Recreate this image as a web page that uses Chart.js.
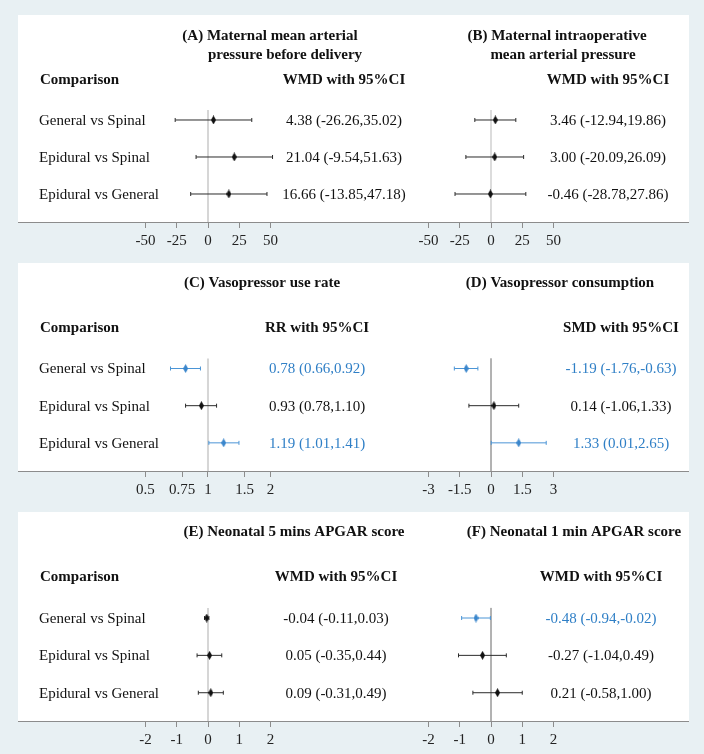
<!DOCTYPE html>
<html>
<head>
<meta charset="utf-8">
<script src="https://cdn.jsdelivr.net/npm/chart.js@4.4.1/dist/chart.umd.min.js"></script>
<style>
  body { margin: 0; background: #e8f0f3; width: 704px; height: 754px; position: relative; overflow: hidden; }
  canvas { position: absolute; }
  .left { z-index: 2; }
  .right { z-index: 1; }
</style>
</head>
<body>
<canvas id="chartA" class="left" width="414" height="235" style="left:18px;top:15px"></canvas>
<canvas id="chartB" class="right" width="337" height="235" style="left:352px;top:15px"></canvas>
<canvas id="chartC" class="left" width="414" height="236" style="left:18px;top:263px"></canvas>
<canvas id="chartD" class="right" width="337" height="236" style="left:352px;top:263px"></canvas>
<canvas id="chartE" class="left" width="414" height="237" style="left:18px;top:512px"></canvas>
<canvas id="chartF" class="right" width="337" height="237" style="left:352px;top:512px"></canvas>
<script>
// --- Data ---
const comparisons = ["General vs Spinal", "Epidural vs Spinal", "Epidural vs General"];

// (A) Maternal mean arterial pressure before delivery
const aTitle = ["(A) Maternal mean arterial", "pressure before delivery"];
const aEst = [4.38, 21.04, 16.66];
const aLow = [-26.26, -9.54, -13.85];
const aHigh = [35.02, 51.63, 47.18];
const aSig = [false, false, false];
const aTicks = [-50, -25, 0, 25, 50];

// (B) Maternal intraoperative mean arterial pressure
const bTitle = ["(B) Maternal intraoperative", "mean arterial pressure"];
const bEst = [3.46, 3.0, -0.46];
const bLow = [-12.94, -20.09, -28.78];
const bHigh = [19.86, 26.09, 27.86];
const bSig = [false, false, false];
const bTicks = [-50, -25, 0, 25, 50];

// (C) Vasopressor use rate
const cTitle = ["(C) Vasopressor use rate"];
const cEst = [0.78, 0.93, 1.19];
const cLow = [0.66, 0.78, 1.01];
const cHigh = [0.92, 1.1, 1.41];
const cSig = [true, false, true];
const cTicks = [0.5, 0.75, 1, 1.5, 2];

// (D) Vasopressor consumption
const dTitle = ["(D) Vasopressor consumption"];
const dEst = [-1.19, 0.14, 1.33];
const dLow = [-1.76, -1.06, 0.01];
const dHigh = [-0.63, 1.33, 2.65];
const dSig = [true, false, true];
const dTicks = [-3, -1.5, 0, 1.5, 3];

// (E) Neonatal 5 mins APGAR score
const eTitle = ["(E) Neonatal 5 mins APGAR score"];
const eEst = [-0.04, 0.05, 0.09];
const eLow = [-0.11, -0.35, -0.31];
const eHigh = [0.03, 0.44, 0.49];
const eSig = [false, false, false];
const eTicks = [-2, -1, 0, 1, 2];

// (F) Neonatal 1 min APGAR score
const fTitle = ["(F) Neonatal 1 min APGAR score"];
const fEst = [-0.48, -0.27, 0.21];
const fLow = [-0.94, -1.04, -0.58];
const fHigh = [-0.02, 0.49, 1.0];
const fSig = [true, false, false];
const fTicks = [-2, -1, 0, 1, 2];

// --- Styling ---
const serif = "'Liberation Serif', 'Times New Roman', serif";
const blueLine = "#4b95d6";
const blueText = "#2f7fc6";
const blackLine = "#2b2b2b";
const axisGray = "#8c8c8c";

// rows sit at y = 1, 2, 3 ; 37px per row
const yMin = -1.838;
const yMax = 3.757;
const refTop = 0.73;

function makeDiamond(color) {
  const c = document.createElement("canvas");
  c.width = 5;
  c.height = 9;
  const g = c.getContext("2d");
  g.fillStyle = color;
  g.beginPath();
  g.moveTo(2.5, 0);
  g.lineTo(5, 4.5);
  g.lineTo(2.5, 9);
  g.lineTo(0, 4.5);
  g.closePath();
  g.fill();
  return c;
}
const blueDiamond = makeDiamond("#3a86cc");
const blackDiamond = makeDiamond("#111");

// panel settings (axis ranges line the tick marks up under each other)
// left panels get extra right padding so their value column can spill over
const panels = [
  { id: "chartA", title: aTitle, est: aEst, low: aLow, high: aHigh, sig: aSig, ticks: aTicks,
    type: "linear", min: -152, max: 115.2, ref: 0, refColor: "#d6d6d6", refWidth: 2, padRight: 80,
    header: "WMD with 95%CI", titleX: [252, 267], titleY: [21, 40], colX: 326, labels: true },
  { id: "chartB", title: bTitle, est: bEst, low: bLow, high: bHigh, sig: bSig, ticks: bTicks,
    type: "linear", min: -111.2, max: 158.4, ref: 0, refColor: "#dcdcdc", refWidth: 2, padRight: 0,
    header: "WMD with 95%CI", titleX: [205, 211], titleY: [21, 40], colX: 256, labels: false },
  { id: "chartC", title: cTitle, est: cEst, low: cLow, high: cHigh, sig: cSig, ticks: cTicks,
    type: "logarithmic", min: 0.1216, max: 4.94, ref: 1, refColor: "#d6d6d6", refWidth: 2, padRight: 80,
    header: "RR with 95%CI", titleX: [244], titleY: [20], colX: 299, labels: true },
  { id: "chartD", title: dTitle, est: dEst, low: dLow, high: dHigh, sig: dSig, ticks: dTicks,
    type: "linear", min: -6.672, max: 9.504, ref: 0, refColor: "#a8a8a8", refWidth: 1, padRight: 0,
    header: "SMD with 95%CI", titleX: [208], titleY: [20], colX: 269, labels: false },
  { id: "chartE", title: eTitle, est: eEst, low: eLow, high: eHigh, sig: eSig, ticks: eTicks,
    type: "linear", min: -6.08, max: 4.608, ref: 0, refColor: "#d6d6d6", refWidth: 2, padRight: 80,
    header: "WMD with 95%CI", titleX: [276], titleY: [20], colX: 318, labels: true },
  { id: "chartF", title: fTitle, est: fEst, low: fLow, high: fHigh, sig: fSig, ticks: fTicks,
    type: "linear", min: -4.448, max: 6.336, ref: 0, refColor: "#a8a8a8", refWidth: 1, padRight: 0,
    header: "WMD with 95%CI", titleX: [222], titleY: [20], colX: 249, labels: false },
];

function buildDatasets(p) {
  const sets = [];
  // vertical line of no effect
  sets.push({
    data: [{ x: p.ref, y: refTop }, { x: p.ref, y: yMax }],
    showLine: true,
    borderColor: p.refColor,
    borderWidth: p.refWidth,
    pointRadius: 0,
    order: 3,
  });
  // confidence intervals with end caps
  p.est.forEach((v, i) => {
    const col = p.sig[i] ? blueLine : blackLine;
    sets.push({
      data: [{ x: p.low[i], y: i + 1 }, { x: p.high[i], y: i + 1 }],
      showLine: true,
      borderColor: col,
      borderWidth: 1,
      pointStyle: "line",
      pointRotation: 90,
      pointRadius: 2,
      pointBorderColor: col,
      pointBorderWidth: 1,
      order: 2,
    });
  });
  // point estimates
  sets.push({
    data: p.est.map((v, i) => ({ x: v, y: i + 1 })),
    pointStyle: p.sig.map((s) => (s ? blueDiamond : blackDiamond)),
    order: 1,
  });
  return sets;
}

function textPlugin(p) {
  return {
    id: "forestText" + p.id,
    beforeDraw(chart) {
      const a = chart.chartArea;
      const ctx = chart.ctx;
      ctx.save();
      ctx.fillStyle = "#ffffff";
      ctx.fillRect(a.left, a.top, a.right - a.left, a.bottom - a.top);
      ctx.restore();
    },
    afterDraw(chart) {
      const ctx = chart.ctx;
      const top = chart.chartArea.top;
      const yScale = chart.scales.y;
      ctx.save();
      ctx.textBaseline = "middle";
      ctx.fillStyle = "#111";
      ctx.font = "bold 15px " + serif;
      ctx.textAlign = "center";
      p.title.forEach((line, i) => ctx.fillText(line, p.titleX[i], top + p.titleY[i]));
      ctx.fillText(p.header, p.colX, top + 65);
      if (p.labels) {
        ctx.textAlign = "left";
        ctx.fillText("Comparison", 22, top + 65);
      }
      ctx.font = "15px " + serif;
      p.est.forEach((v, i) => {
        const y = yScale.getPixelForValue(i + 1) + 1;
        if (p.labels) {
          ctx.textAlign = "left";
          ctx.fillStyle = "#111";
          ctx.fillText(comparisons[i], 21, y);
        }
        ctx.textAlign = "center";
        ctx.fillStyle = p.sig[i] ? blueText : "#111";
        const txt = v.toFixed(2) + " (" + p.low[i].toFixed(2) + "," + p.high[i].toFixed(2) + ")";
        ctx.fillText(txt, p.colX, y);
      });
      ctx.restore();
    },
  };
}

panels.forEach((p) => {
  new Chart(document.getElementById(p.id), {
    type: "scatter",
    data: { datasets: buildDatasets(p) },
    options: {
      responsive: false,
      animation: false,
      layout: { autoPadding: false, padding: { left: 0, top: 0, bottom: 0, right: p.padRight } },
      plugins: { legend: { display: false }, tooltip: { enabled: false } },
      scales: {
        x: {
          type: p.type,
          min: p.min,
          max: p.max,
          bounds: "data",
          afterBuildTicks: (scale) => {
            scale.ticks = p.ticks.map((v) => ({ value: v }));
          },
          afterFit: (scale) => {
            scale.height = 28;
          },
          ticks: {
            autoSkip: false,
            maxRotation: 0,
            padding: 4,
            color: "#222",
            font: { family: serif, size: 15 },
            callback: (v) => String(v),
          },
          grid: { drawOnChartArea: false, drawTicks: true, tickLength: 6, color: axisGray },
          border: { display: true, color: axisGray, width: 1 },
        },
        y: { display: false, reverse: true, min: yMin, max: yMax },
      },
    },
    plugins: [textPlugin(p)],
  });
});
</script>
</body>
</html>
